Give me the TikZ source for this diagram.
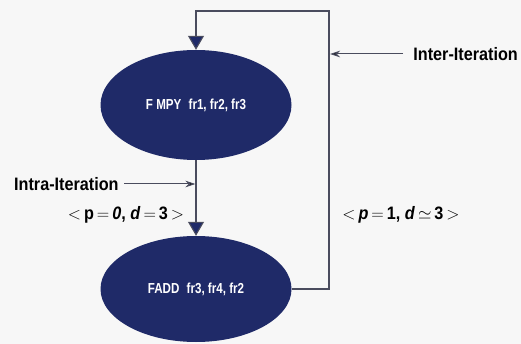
\documentclass[tikz,border=0pt]{standalone}
\usepackage{fontspec}
\setmainfont{Liberation Sans}
\newfontfamily\cond[FakeStretch=0.9]{Liberation Sans}
\newfontfamily\condw[FakeStretch=0.8]{Liberation Sans}
\usetikzlibrary{shapes.geometric,arrows.meta}
\definecolor{navy}{HTML}{1F2A68}
\definecolor{bg}{HTML}{F7F7F7}
\definecolor{ln}{HTML}{4A4C5E}
\tikzset{
  opnode/.style={ellipse, fill=navy, draw=none, minimum width=191pt, inner sep=0pt,
    text=white, font=\condw\bfseries\fontsize{14.5}{16}\selectfont},
  flow/.style={draw=ln, line width=1.1pt, -{Triangle[width=16pt,length=14pt,fill=navy]}},
  note/.style={draw=ln, line width=1pt, -{Stealth[length=10pt,width=6.5pt,fill=black]}},
  lbl/.style={font=\cond\bfseries\fontsize{18}{20}\selectfont, text=black, inner sep=0pt},
}
\begin{document}
\begin{tikzpicture}[x=1pt,y=-1pt]
\useasboundingbox[fill=bg] (0,0) rectangle (521,344);
\node[opnode, minimum height=110pt] (e1) at (196,105) {F MPY\enspace fr1, fr2, fr3};
\node[opnode, minimum height=106pt] (e2) at (196,289) {FADD\enspace fr3, fr4, fr2};
\coordinate (tr) at (329,11);
\draw[flow] (e2.east) -| (tr) -| (e1.north);
\draw[flow] (e1.south) -- (e2.north);
\node[lbl, anchor=east] (inter) at (518,54) {Inter-Iteration};
\coordinate (ia) at (403,54);
\coordinate (ib) at (330,54);
\draw[note] (ia) -- (ib);
\node[lbl, anchor=west] (intra) at (14,184) {Intra-Iteration};
\coordinate (ic) at (124,184);
\coordinate (id) at (195.5,184);
\draw[note] (ic) -- (id);
\node[lbl] (l1) at (126,215) {$<$\,p\,$=$\,\textit{0}, \textit{d}\,$=$\,3\,$>$};
\node[lbl] (l2) at (401,215) {$<$\,\textit{p}\,$=$\,1, \textit{d}\,$\simeq$\,3\,$>$};
\end{tikzpicture}
\end{document}
